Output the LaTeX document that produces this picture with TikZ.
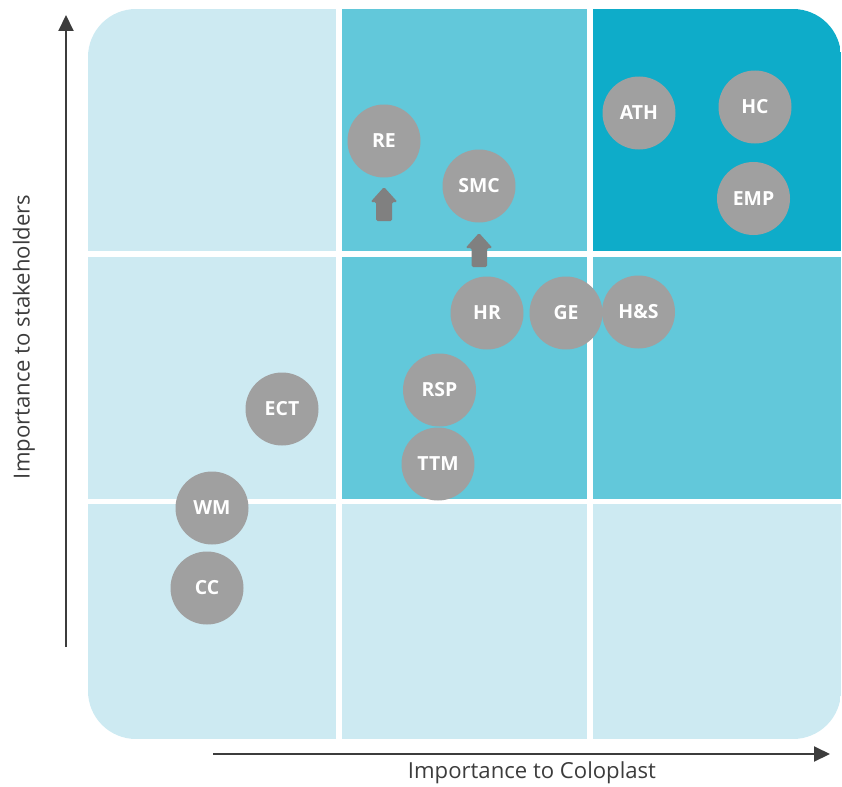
\documentclass[tikz,border=0pt]{standalone}
\usepackage{fontspec}
\setmainfont{Open Sans}
\usetikzlibrary{arrows.meta}
\definecolor{cellL}{RGB}{205,234,242}
\definecolor{cellM}{RGB}{98,200,218}
\definecolor{cellD}{RGB}{14,172,201}
\definecolor{bub}{RGB}{160,160,160}
\definecolor{arr}{RGB}{128,128,128}
\definecolor{axis}{RGB}{60,60,60}
\definecolor{axtext}{RGB}{60,60,60}
\tikzset{
  bubble/.style={circle, fill=bub, minimum size=73bp, inner sep=0pt, text=white, font=\fontsize{19.5}{19.5}\selectfont\bfseries},
  axisline/.style={draw=axis, line width=2bp, -{Triangle[width=15bp,length=16bp]}},
  axislabel/.style={text=axtext, font=\fontsize{22.2}{22.2}\selectfont, inner sep=0pt},
  uparrow/.style={fill=arr, rounded corners=1.5bp}
}
\begin{document}
\begin{tikzpicture}[x=1bp,y=-1bp]
\useasboundingbox (0,0) rectangle (842,787);
% panel
\begin{scope}
\clip[rounded corners=48bp] (88,9) rectangle (841,739);
\fill[cellL] (88,9) rectangle (336,251);
\fill[cellM] (342,9) rectangle (587,251);
\fill[cellD] (593,9) rectangle (841,251);
\fill[cellL] (88,257) rectangle (336,499);
\fill[cellM] (342,257) rectangle (587,499);
\fill[cellM] (593,257) rectangle (841,499);
\fill[cellL] (88,504) rectangle (336,739);
\fill[cellL] (342,504) rectangle (587,739);
\fill[cellL] (593,504) rectangle (841,739);
\end{scope}
% up arrows
\fill[uparrow] (384,187) -- (397.5,202) -- (392,202) -- (392,221) -- (376,221) -- (376,202) -- (370.5,202) -- cycle;
\fill[uparrow] (479,233) -- (492.5,248) -- (487,248) -- (487,267) -- (471.5,267) -- (471.5,248) -- (465.5,248) -- cycle;
% bubbles
\node[bubble] (RE) at (384,141) {RE};
\node[bubble] (SMC) at (479,186) {SMC};
\node[bubble] (ATH) at (639,113) {ATH};
\node[bubble] (HC) at (755,107) {HC};
\node[bubble] (EMP) at (753.5,198.5) {EMP};
\node[bubble] (HR) at (487,313) {HR};
\node[bubble] (GE) at (566,313) {GE};
\node[bubble] (HS) at (638.5,312) {H\&S};
\node[bubble] (RSP) at (439.5,390) {RSP};
\node[bubble] (TTM) at (438,464) {TTM};
\node[bubble] (ECT) at (282,409) {ECT};
\node[bubble] (WM) at (212,508) {WM};
\node[bubble] (CC) at (207,588) {CC};
% axes
\coordinate (yA) at (66,647);
\coordinate (yB) at (66,15);
\coordinate (xA) at (213,754);
\coordinate (xB) at (830,754);
\draw[axisline] (yA) -- (yB);
\draw[axisline] (xA) -- (xB);
\node[axislabel, rotate=90] (ylab) at (24,337) {Importance to stakeholders};
\node[axislabel] (xlab) at (532,773) {Importance to Coloplast};
\end{tikzpicture}
\end{document}
